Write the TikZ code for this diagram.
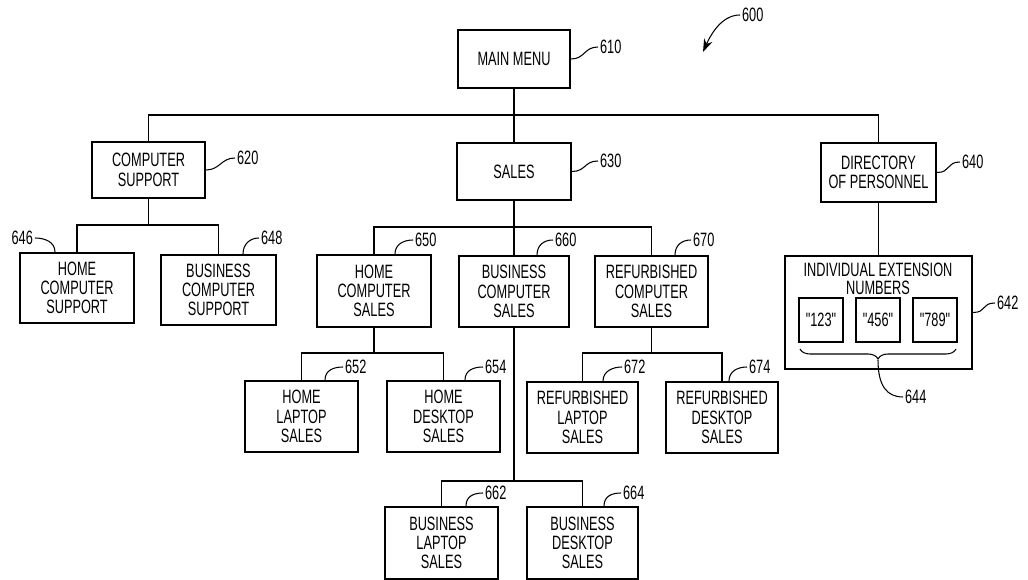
\documentclass[tikz,border=0pt]{standalone}
\usepackage{fontspec}
\setmainfont{Liberation Sans}[FakeStretch=0.66]
\newfontfamily\keyfont{Liberation Sans}[FakeStretch=0.66, Ligatures=TeXOff]
\usetikzlibrary{arrows.meta,calc,decorations.pathreplacing}

\tikzset{
	menubox/.style={draw, line width=1.1pt, align=center, inner sep=0pt,
		minimum width=2.26cm, minimum height=1.16cm,
		font=\fontsize{11}{11}\selectfont},
	subbox/.style={menubox, minimum height=1.42cm},
	extbox/.style={draw, line width=1.2pt, inner sep=0pt, minimum size=0.88cm,
		font=\keyfont\fontsize{11}{11}\selectfont},
	wire/.style={line width=0.9pt},
	leader/.style={line width=0.6pt},
	num/.style={anchor=west, inner sep=1pt, font=\fontsize{11}{11}\selectfont},
}

\begin{document}
\begin{tikzpicture}[x=0.02cm,y=-0.02cm]
	\useasboundingbox (0,0) rectangle (1028,580);
	
	% top level
	\node[menubox, minimum width=2.24cm] (main) at (514,59) {MAIN MENU};
	\node[menubox, minimum height=1.12cm] (cs) at (148.5,170) {COMPUTER\\SUPPORT};
	\node[menubox, minimum width=2.28cm, minimum height=1.14cm] (sales) at (514,171.5) {SALES};
	\node[menubox, minimum width=2.3cm, minimum height=1.18cm] (dir) at (878.5,172.5) {DIRECTORY\\OF PERSONNEL};
	\coordinate (b1) at (514,115);
	\draw[wire] (main) -- (sales);
	\draw[wire] (cs.north) |- (b1) -| (dir.north);
	
	% computer support
	\node[subbox, minimum width=2.28cm, minimum height=1.4cm] (hcsup) at (77,288) {HOME\\COMPUTER\\SUPPORT};
	\node[subbox, minimum width=2.3cm, minimum height=1.4cm] (bcsup) at (218.5,290) {BUSINESS\\COMPUTER\\SUPPORT};
	\coordinate (b2) at (148.5,225);
	\draw[wire] (cs) -- (b2);
	\draw[wire] (hcsup.north) |- (b2) -| (bcsup.north);
	
	% sales
	\node[subbox, minimum width=2.28cm, minimum height=1.44cm] (hcsales) at (374,291) {HOME\\COMPUTER\\SALES};
	\node[subbox, minimum width=2.2cm] (bcsales) at (514,291.5) {BUSINESS\\COMPUTER\\SALES};
	\node[subbox] (rcsales) at (651.5,291.5) {REFURBISHED\\COMPUTER\\SALES};
	\coordinate (b3) at (514,227);
	\draw[wire] (sales) -- (bcsales);
	\draw[wire] (hcsales.north) |- (b3) -| (rcsales.north);
	
	% home
	\node[subbox] (hlap) at (301.5,416.5) {HOME\\LAPTOP\\SALES};
	\node[subbox] (hdesk) at (443.5,416.5) {HOME\\DESKTOP\\SALES};
	\coordinate (b4) at (374,353);
	\draw[wire] (hcsales) -- (b4);
	\draw[wire] (hlap.north) |- (b4) -| (hdesk.north);
	
	% refurbished
	\node[subbox, minimum width=2.22cm] (rlap) at (582.5,417.5) {REFURBISHED\\LAPTOP\\SALES};
	\node[subbox, minimum width=2.24cm] (rdesk) at (722,417.5) {REFURBISHED\\DESKTOP\\SALES};
	\coordinate (b6) at (651.5,353);
	\draw[wire] (rcsales) -- (b6);
	\draw[wire] (rlap.north) |- (b6) -| (rdesk.north);
	
	% business
	\node[subbox, minimum height=1.44cm] (blap) at (441.5,543) {BUSINESS\\LAPTOP\\SALES};
	\node[subbox, minimum width=2.22cm, minimum height=1.44cm] (bdesk) at (582.5,543) {BUSINESS\\DESKTOP\\SALES};
	\coordinate (b5) at (514,481);
	\draw[wire] (bcsales) -- (b5);
	\draw[wire] (blap.north) |- (b5) -| (bdesk.north);
	
	% directory of personnel
	\node[menubox, minimum width=3.74cm, minimum height=2.26cm] (ext) at (878.5,312.5) {};
	\node[align=center, inner sep=0pt, font=\fontsize{11}{10.5}\selectfont] (exttitle) at (878,279) {INDIVIDUAL EXTENSION\\NUMBERS};
	\foreach \n/\x in {123/821,456/878,789/935}{
		\node[extbox] (e\n) at (\x,320) {"\n"};
	}
	\draw[wire] (dir) -- (ext);
	\coordinate (tip) at (878,360);
	\draw[leader, decorate, decoration={brace, mirror, amplitude=0.2cm}] (800,349) -- (956,349);
	
	% reference numbers, right of a box
	\foreach \b/\n/\lx/\ly in {main/610/598/47, cs/620/235/158, sales/630/598/161, dir/640/960/162, ext/642/995/303}{
		\node[num] (l\n) at (\lx,\ly) {\n};
		\draw[leader] (\b.east) .. controls +(14,0) and +(-14,0) .. (l\n.west);
	}
	
	% reference numbers, above a box
	\foreach \b/\dx/\n/\lx/\ly in {bcsup/24.5/648/259/238, hcsales/21/650/413/240, bcsales/23/660/553/240,
		rcsales/23.5/670/691/240, hlap/23.5/652/343/367, hdesk/21.5/654/483/367, rlap/20.5/672/622/367,
		rdesk/7/674/747/367, blap/24.5/662/483/493, bdesk/21.5/664/621/493}{
		\node[num] (l\n) at (\lx,\ly) {\n};
		\draw[leader] ($(\b.north)+(\dx,0)$) .. controls +(0,-10) and +(-9,0) .. (l\n.west);
	}
	
	\node[num, anchor=east] (l646) at (35,238) {646};
	\draw[leader] (l646.east) .. controls +(10,0) and +(0,-10) .. ($(hcsup.north)+(-22,0)$);
	
	\node[num] (l644) at (903,397) {644};
	\draw[leader] (tip) .. controls +(0,26) and +(-16,0) .. (l644.west);
	
	\node[num] (l600) at (740,15) {600};
	\coordinate (a600) at (703,52);
	\draw[leader, -{Stealth[length=2.6mm, width=1.8mm]}] (l600.west) .. controls +(-18,0) and +(8,-18) .. (a600);
\end{tikzpicture}
\end{document}
